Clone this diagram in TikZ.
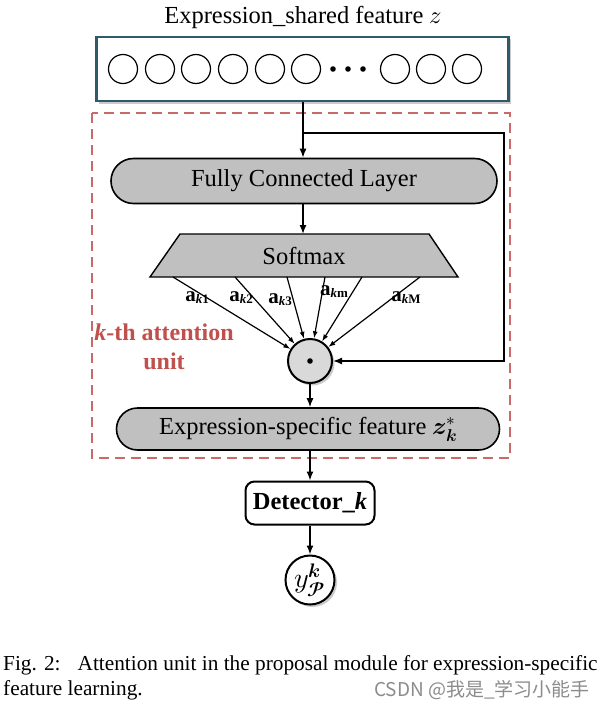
\documentclass[tikz,border=0pt]{standalone}
\usepackage{fontspec}
\usepackage{unicode-math}
\setmainfont{Liberation Serif}
\setmathfont{Latin Modern Math}
\newfontfamily\cjk{Noto Sans CJK SC}
\usetikzlibrary{shapes.misc,shadows,arrows.meta}
\definecolor{unitred}{HTML}{C0504D}
\definecolor{boxteal}{HTML}{2F5A69}
\definecolor{pillgray}{HTML}{C0C0C0}
\definecolor{dotgray}{HTML}{D9D9D9}
\tikzset{
  arr/.style={line width=1.4pt,-{Latex[length=9pt,width=7pt]}},
  arrs/.style={line width=1.2pt,-{Latex[length=7pt,width=5pt]}},
  pill/.style={rounded rectangle, draw, line width=1.6pt, fill=pillgray, inner sep=0pt},
  unitcirc/.style={circle, draw, line width=1.2pt, minimum size=29pt, inner sep=0pt},
  alabel/.style={inner sep=0pt, font=\fontsize{21}{22}\selectfont\bfseries},
  shadowed/.style={drop shadow={shadow xshift=2.5pt, shadow yshift=-2.5pt, fill=black!40}},
}
\newcommand{\alab}[1]{a\raisebox{-2pt}{\fontsize{13}{13}\selectfont\textbf{\textit{k}#1}}}
\begin{document}
\begin{tikzpicture}[x=1pt,y=-1pt,font=\fontsize{24.5}{28}\selectfont]
\useasboundingbox[fill=white] (0,0) rectangle (604,709);
% title
\node (title) at (303,17) {Expression\_shared feature $z$};
% shared feature box
\node[draw=boxteal, line width=2.8pt, fill=white, minimum width=412pt, minimum height=64pt, shadowed] (zbox) at (302.5,69) {};
\foreach \x in {123,160,196,233,270,306,395,431,467}
  \node[unitcirc] (c\x) at (\x,69) {};
\foreach \x in {333,348,363}
  \fill (\x,69) circle (2.8);
% attention unit dashed frame
\draw[unitred!85, line width=1.5pt, dash pattern=on 10pt off 6pt] (92,113) rectangle (510,458);
\node[text=unitred, font=\fontsize{24}{29}\selectfont\bfseries, align=center] (unitlab) at (164,347) {\textit{k}-th attention\\unit};
% FC layer
\node[pill, minimum width=386pt, minimum height=45pt] (fc) at (304,181) {Fully Connected Layer};
% softmax trapezoid
\coordinate (t1) at (180,234);
\coordinate (t2) at (429,234);
\coordinate (t3) at (458,277);
\coordinate (t4) at (150,277);
\draw[fill=pillgray, line width=1.4pt] (t1) -- (t2) -- (t3) -- (t4) -- cycle;
\node (soft) at (304,256) {Softmax};
% odot
\node[circle, draw, line width=2pt, fill=dotgray, minimum size=44pt, inner sep=0pt, shadowed] (dot) at (310,361) {};
\fill (dot.center) circle (2.8);
% softmax outputs
\foreach \i/\x in {1/173,2/235,3/287,4/325,5/362,6/420} {
  \coordinate (s\i) at (\x,277);
  \draw[arrs] (s\i) -- (dot);
}
\node[alabel] (a1) at (197,298) {\alab{1}};
\node[alabel] (a2) at (241,298) {\alab{2}};
\node[alabel] (a3) at (280,300) {\alab{3}};
\node[alabel] (a4) at (334,292) {\alab{m}};
\node[alabel] (a5) at (406,298) {\alab{M}};
% connections
\coordinate (br) at (303,133);
\coordinate (rc) at (504,133);
\draw[arr] (zbox.south -| br) -- (fc.north -| br);
\draw[arr] (br) -- (rc) |- (dot);
\draw[arr] (fc.south -| br) -- (303,234);
% expression-specific
\node[pill, minimum width=383pt, minimum height=42pt] (es) at (308,429) {Expression-specific feature $\symbfit{z}_{\symbfit{k}}^{*}$};
\draw[arr] (dot) -- (es.north -| dot);
% detector
\node[draw, rounded corners=9pt, line width=2pt, fill=white, minimum width=129pt, minimum height=43pt, font=\fontsize{24.5}{28}\selectfont\bfseries] (det) at (310,503) {Detector\_\textit{k}};
\draw[arr] (es.south -| det) -- (det.north);
% output
\node[circle, draw, line width=2pt, fill=white, minimum size=49pt, inner sep=0pt, shadowed, font=\fontsize{28}{30}\selectfont] (yp) at (310,580) {$\symbfscr{y}^{\symbfit{k}}_{\symbfscr{P}}$};
\draw[arr] (det.south) -- (yp.north);
% caption
\node[anchor=west, font=\fontsize{21.3}{24}\selectfont, inner sep=0pt] (cap1) at (3,665) {Fig. 2:\hspace{0.8em}Attention unit in the proposal module for expression-specific};
\node[anchor=west, font=\fontsize{21.3}{24}\selectfont, inner sep=0pt] (cap2) at (3,690) {feature learning.};
\node[anchor=east, text=black!45, font=\cjk\fontsize{19}{22}\selectfont, inner sep=0pt] (wm) at (590,690) {CSDN @我是\_学习小能手};
\end{tikzpicture}
\end{document}
